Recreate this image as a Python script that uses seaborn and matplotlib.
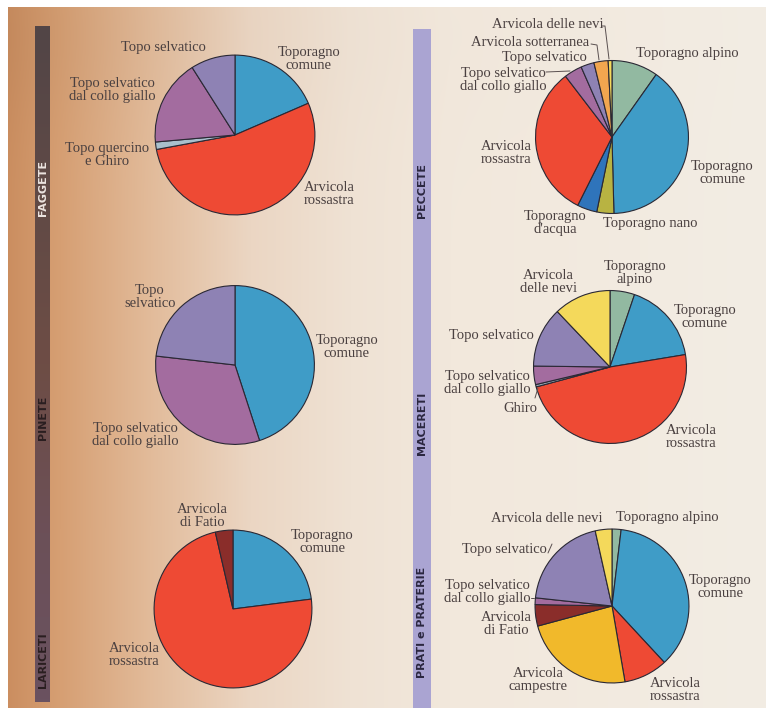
import numpy as np
import matplotlib
matplotlib.use("Agg")
import matplotlib.pyplot as plt
from matplotlib.colors import to_rgb
import seaborn as sns

# ---- data: share of each small-mammal species per habitat (%) ----
faggete_species = ["Toporagno comune", "Arvicola rossastra", "Topo quercino e Ghiro",
                   "Topo selvatico dal collo giallo", "Topo selvatico"]
faggete_values = [18.5, 53.6, 1.5, 17.4, 9.0]

pinete_species = ["Toporagno comune", "Topo selvatico dal collo giallo", "Topo selvatico"]
pinete_values = [45.0, 31.8, 23.2]

lariceti_species = ["Toporagno comune", "Arvicola rossastra", "Arvicola di Fatio"]
lariceti_values = [23.0, 73.4, 3.6]

peccete_species = ["Toporagno alpino", "Toporagno comune", "Toporagno nano", "Toporagno d'acqua",
                   "Arvicola rossastra", "Topo selvatico dal collo giallo", "Topo selvatico",
                   "Arvicola sotterranea", "Arvicola delle nevi"]
peccete_values = [9.8, 39.8, 3.6, 4.2, 32.2, 3.8, 2.8, 3.0, 0.8]

macereti_species = ["Toporagno alpino", "Toporagno comune", "Arvicola rossastra", "Ghiro",
                    "Topo selvatico dal collo giallo", "Topo selvatico", "Arvicola delle nevi"]
macereti_values = [5.2, 17.2, 48.4, 0.5, 3.9, 12.7, 12.1]

prati_species = ["Toporagno alpino", "Toporagno comune", "Arvicola rossastra", "Arvicola campestre",
                 "Arvicola di Fatio", "Topo selvatico dal collo giallo", "Topo selvatico",
                 "Arvicola delle nevi"]
prati_values = [1.9, 36.2, 9.2, 23.5, 4.5, 1.4, 19.8, 3.5]

habitat_titles = ["FAGGETE", "PINETE", "LARICETI", "PECCETE", "MACERETI", "PRATI e PRATERIE"]

# ---- styling ----
species_colors = {
    "Toporagno comune": "#3f9cc7",
    "Arvicola rossastra": "#ee4a34",
    "Topo selvatico": "#8e82b4",
    "Topo selvatico dal collo giallo": "#a36c9f",
    "Topo quercino e Ghiro": "#a9c0cd",
    "Ghiro": "#9aabb9",
    "Arvicola di Fatio": "#8a2d2a",
    "Toporagno alpino": "#92b9a1",
    "Toporagno nano": "#b8b342",
    "Toporagno d'acqua": "#2f74bb",
    "Arvicola sotterranea": "#f2a64f",
    "Arvicola delle nevi": "#f4d95b",
    "Arvicola campestre": "#f1b92b",
}

W, H = 766, 708
sns.set_theme(style="white")
plt.rcParams["font.family"] = ["Liberation Serif", "DejaVu Serif"]
TXT = "#4a4040"
LFS = 10.5

fig = plt.figure(figsize=(W / 100, H / 100), dpi=100)

# page background: warm paper tone, shaded towards the left margin
bg = fig.add_axes([0, 0, 1, 1], zorder=0)
xs = np.array([8, 60, 150, 250, 350, 450, 766], float)
cols = np.array([to_rgb(c) for c in ["#cb8e60", "#d69f73", "#e2bb9a", "#ebd6c3",
                                       "#efe2d4", "#f2e8dc", "#f3ede4"]])
px = np.arange(W)
row = np.stack([np.interp(px, xs, cols[:, k]) for k in range(3)], axis=-1)
img = np.repeat(row[None, :, :], H, axis=0)
yy = np.linspace(0, 1, H)[:, None, None]
shade = 1 - 0.035 * np.exp(-((yy - 0.05) / 0.12) ** 2) * np.exp(-(px[None, :, None] / 220.0))
img = np.clip(img * shade, 0, 1)
img[:7, :, :] = 1.0
img[:, :8, :] = 1.0
bg.imshow(img, extent=(0, W, H, 0), aspect="auto", interpolation="bilinear")
bg.set_xlim(0, W)
bg.set_ylim(H, 0)
bg.axis("off")

# side bars
left_bar = np.array([to_rgb(c) for c in ["#524546", "#604a46", "#6e4d45", "#6c5058", "#6a5260"]])
ly = np.linspace(0, 1, len(left_bar))
grad = np.stack([np.interp(np.linspace(0, 1, 200), ly, left_bar[:, k]) for k in range(3)], axis=-1)
bg.imshow(grad[:, None, :], extent=(35, 50, 702, 26), aspect="auto", zorder=2)
bg.add_patch(plt.Rectangle((413, 29), 18, 680, color="#aaa4d2", zorder=2, lw=0))
bg.set_xlim(0, W)
bg.set_ylim(H, 0)

bar_labels = [(43, 188, "#ece4e0"), (43, 418, "#2a1e20"), (43, 660, "#2a1e20"),
              (422, 190, "#2b2740"), (422, 423, "#2b2740"), (422, 622, "#2b2740")]
for (x, y, c), t in zip(bar_labels, habitat_titles):
    bg.text(x, y, t, rotation=90, ha="center", va="center", color=c, fontsize=8,
            fontweight="bold", family=["DejaVu Sans"], zorder=3)


def draw_pie(cx, cy, r, species, values):
    ax = fig.add_axes([(cx - r) / W, 1 - (cy + r) / H, 2 * r / W, 2 * r / H], zorder=2)
    ax.pie(values, colors=[species_colors[s] for s in species], startangle=90,
           counterclock=False, radius=1.0,
           wedgeprops=dict(edgecolor="#2a2834", linewidth=0.8))
    ax.set_xlim(-1.02, 1.02)
    ax.set_ylim(-1.02, 1.02)
    ax.set_aspect("equal")
    ax.axis("off")


draw_pie(235, 135, 81.5, faggete_species, faggete_values)
draw_pie(235, 365, 81, pinete_species, pinete_values)
draw_pie(233, 609, 80.5, lariceti_species, lariceti_values)
draw_pie(612, 137, 78, peccete_species, peccete_values)
draw_pie(610, 367, 78, macereti_species, macereti_values)
draw_pie(612, 606, 78.5, prati_species, prati_values)

# labels and leader lines
ov = fig.add_axes([0, 0, 1, 1], zorder=5)
ov.set_xlim(0, W)
ov.set_ylim(H, 0)
ov.axis("off")
ov.patch.set_alpha(0)

labels = [
    # faggete
    (163, 48, "Topo selvatico"), (309, 59, "Toporagno\ncomune"),
    (112, 90, "Topo selvatico\ndal collo giallo"), (107, 155, "Topo quercino\ne Ghiro"),
    (329, 194, "Arvicola\nrossastra"),
    # pinete
    (150, 297, "Topo\nselvatico"), (347, 347, "Toporagno\ncomune"),
    (135, 435, "Topo selvatico\ndal collo giallo"),
    # lariceti
    (202, 516, "Arvicola\ndi Fatio"), (322, 542, "Toporagno\ncomune"),
    (134, 655, "Arvicola\nrossastra"),
    # peccete
    (548, 25, "Arvicola delle nevi"), (530, 42, "Arvicola sotterranea"),
    (544, 57, "Topo selvatico"), (503, 80, "Topo selvatico\ndal collo giallo"),
    (687, 54, "Toporagno alpino"), (722, 173, "Toporagno\ncomune"),
    (650, 223, "Toporagno nano"), (555, 223, "Toporagno\nd'acqua"),
    (506, 153, "Arvicola\nrossastra"),
    # macereti
    (548, 282, "Arvicola\ndelle nevi"), (635, 273, "Toporagno\nalpino"),
    (705, 317, "Toporagno\ncomune"), (491, 335, "Topo selvatico"),
    (487, 383, "Topo selvatico\ndal collo giallo"), (520, 408, "Ghiro"),
    (691, 437, "Arvicola\nrossastra"),
    # prati e praterie
    (547, 518, "Arvicola delle nevi"), (667, 518, "Toporagno alpino"),
    (504, 550, "Topo selvatico"), (720, 587, "Toporagno\ncomune"),
    (487, 592, "Topo selvatico\ndal collo giallo"), (506, 624, "Arvicola\ndi Fatio"),
    (538, 680, "Arvicola\ncampestre"), (675, 690, "Arvicola\nrossastra"),
]
for x, y, t in labels:
    ov.text(x, y, t, ha="center", va="center", fontsize=LFS, color=TXT,
            linespacing=1.0)

leaders = [
    [(602, 26), (605, 26), (609, 59)],
    [(591, 44), (597, 45), (599, 60)],
    [(546, 72), (570, 71)],
    [(535, 398), (538, 388)],
    [(548, 553), (552, 544)],
    [(531, 598), (534, 598)],
]
for pts in leaders:
    a = np.array(pts)
    ov.plot(a[:, 0], a[:, 1], color="#5a5050", lw=0.7)

fig.savefig("out.png", dpi=100)
